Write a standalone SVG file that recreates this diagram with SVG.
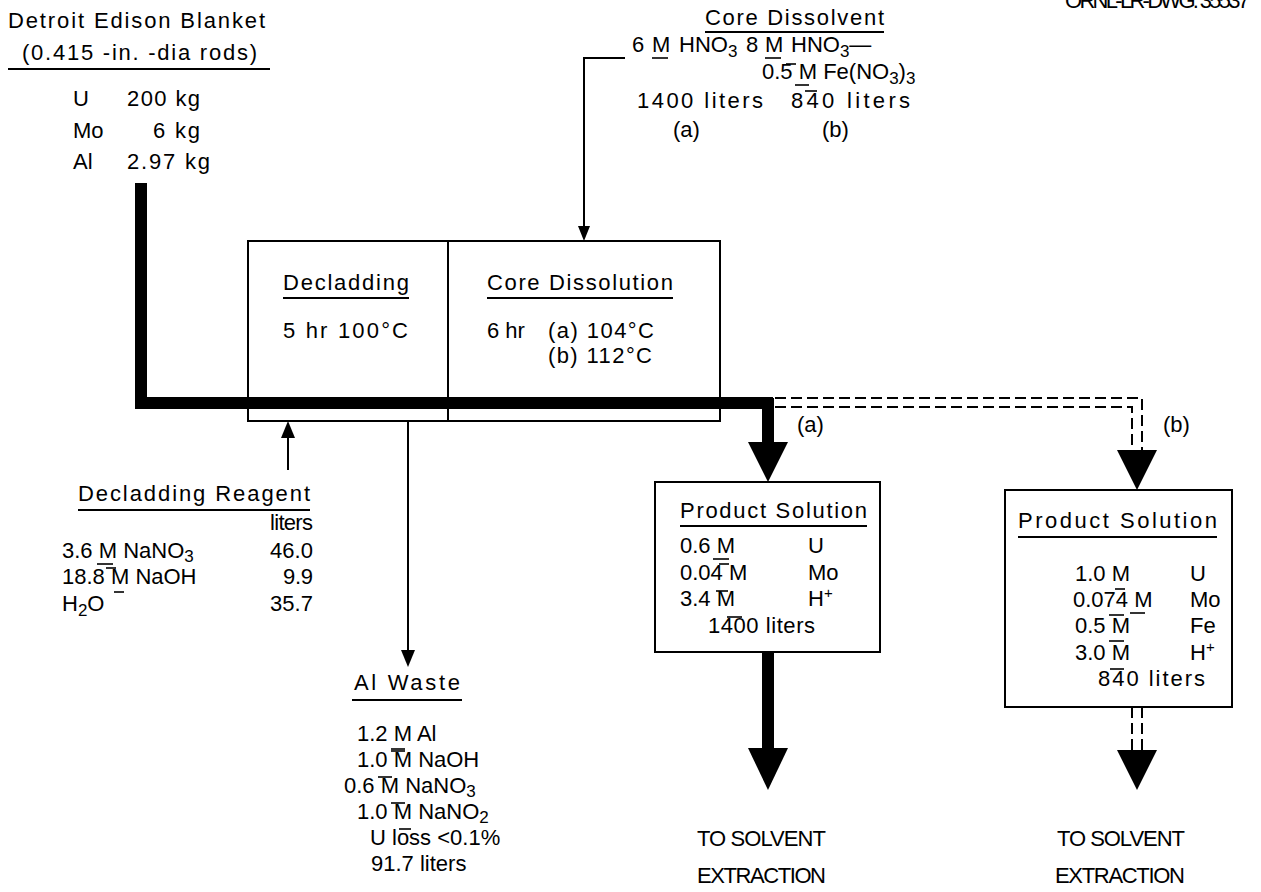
<svg xmlns="http://www.w3.org/2000/svg" width="1261" height="892" viewBox="0 0 1261 892">
<style>
text{font-family:"Liberation Sans",Arial,sans-serif;font-size:22px;fill:#000}
.sub{font-size:17px}
.sup{font-size:15px}
.ln{stroke:#000;stroke-width:2;fill:none}
.ul{stroke:#000;stroke-width:2}
.bar{stroke:#000;stroke-width:1.6}
.thick{stroke:#000;stroke-width:12;fill:none}
.dash{stroke:#000;stroke-width:2;fill:none;stroke-dasharray:11 5}
.box{fill:#fff;stroke:#000;stroke-width:2}
</style>
<rect width="1261" height="892" fill="#fff"/>
<text x="1065" y="8" font-size="16" textLength="185" lengthAdjust="spacing">ORNL-LR-DWG. 35537</text>

<g id="blanket">
<text x="8" y="28" textLength="257" lengthAdjust="spacing">Detroit Edison Blanket</text>
<text x="22" y="60" textLength="235" lengthAdjust="spacing">(0.415 -in. -dia rods)</text>
<line class="ul" x1="8" y1="69" x2="270" y2="69"/>
<text x="73" y="106">U</text><text x="127" y="106" textLength="73" lengthAdjust="spacing">200 kg</text>
<text x="73" y="138">Mo</text><text x="153" y="138" textLength="47" lengthAdjust="spacing">6 kg</text>
<text x="73" y="169">Al</text><text x="127" y="169" textLength="83" lengthAdjust="spacing">2.97 kg</text>
</g>

<g id="core-dissolvent">
<text x="705" y="25" textLength="179" lengthAdjust="spacing">Core Dissolvent</text>
<line class="ul" x1="705" y1="32" x2="884" y2="32"/>
<text x="632" y="52" font-size="21">6<tspan x="652">M</tspan><tspan x="679">HNO</tspan><tspan class="sub" dy="5">3</tspan></text>
<line class="bar" x1="652" y1="58" x2="668" y2="58"/>
<text x="746" y="52" font-size="21">8<tspan x="765">M</tspan><tspan x="791">HNO</tspan><tspan class="sub" dy="5">3</tspan><tspan dy="-5">—</tspan></text>
<line class="bar" x1="765" y1="58" x2="781" y2="58"/>
<text x="762" y="79" font-size="20">0.5 M Fe(NO<tspan class="sub" dy="5">3</tspan><tspan dy="-5">)</tspan><tspan class="sub" dy="5">3</tspan></text>
<line class="bar" x1="786" y1="64" x2="796" y2="64"/>
<line class="bar" x1="795" y1="85" x2="809" y2="85"/>
<text x="637" y="108" textLength="126" lengthAdjust="spacing">1400 liters</text>
<text x="791" y="108" textLength="119" lengthAdjust="spacing">840 liters</text>
<line class="bar" x1="805" y1="91" x2="817" y2="91"/>
<text x="673" y="137">(a)</text>
<text x="822" y="137">(b)</text>
</g>

<g id="process-box">
<rect class="box" x="248" y="241" width="472" height="180"/>
<line class="ln" x1="448" y1="241" x2="448" y2="421"/>
<text x="283" y="290" textLength="126" lengthAdjust="spacing">Decladding</text>
<line class="ul" x1="283" y1="298" x2="409" y2="298"/>
<text x="283" y="338" textLength="125" lengthAdjust="spacing">5 hr 100°C</text>
<text x="487" y="290" textLength="186" lengthAdjust="spacing">Core Dissolution</text>
<line class="ul" x1="487" y1="298" x2="673" y2="298"/>
<text x="487" y="338">6 hr</text>
<text x="548" y="338" textLength="106" lengthAdjust="spacing">(a) 104°C</text>
<text x="548" y="363" textLength="104" lengthAdjust="spacing">(b) 112°C</text>
</g>

<g id="declad-reagent">
<text x="78" y="501" textLength="232" lengthAdjust="spacing">Decladding Reagent</text>
<line class="ul" x1="78" y1="510" x2="310" y2="510"/>
<text x="270" y="530" textLength="43" lengthAdjust="spacing">liters</text>
<text x="62" y="558">3.6 <tspan>M</tspan> NaNO<tspan class="sub" dy="4">3</tspan></text>
<line class="bar" x1="97" y1="564" x2="113" y2="564"/>
<text x="270" y="558" textLength="43" lengthAdjust="spacing">46.0</text>
<text x="62" y="584">18.8 <tspan>M</tspan> NaOH</text>
<line class="bar" x1="106" y1="568" x2="116" y2="568"/>
<line class="bar" x1="114" y1="592" x2="124" y2="592"/>
<text x="283" y="584" textLength="30" lengthAdjust="spacing">9.9</text>
<text x="62" y="611">H<tspan class="sub" dy="5">2</tspan><tspan dy="-5">O</tspan></text>
<text x="270" y="611" textLength="43" lengthAdjust="spacing">35.7</text>
</g>

<g id="al-waste">
<text x="354" y="690" textLength="106" lengthAdjust="spacing">Al Waste</text>
<line class="ul" x1="352" y1="700" x2="462" y2="700"/>
<text x="357" y="741">1.2 M Al</text>
<text x="357" y="767">1.0 M  NaOH</text>
<text x="344" y="793">0.6 M  NaNO<tspan class="sub" dy="4">3</tspan></text>
<text x="357" y="819">1.0 M  NaNO<tspan class="sub" dy="4">2</tspan></text>
<text x="370" y="845">U loss &lt;0.1%</text>
<text x="371" y="871">91.7 liters</text>
<line class="bar" x1="391" y1="749" x2="405" y2="749"/>
<line class="bar" x1="391" y1="751" x2="405" y2="751"/>
<line class="bar" x1="378" y1="777" x2="392" y2="777"/>
<line class="bar" x1="391" y1="803" x2="405" y2="803"/>
<line class="bar" x1="399" y1="829" x2="411" y2="829"/>
</g>

<g id="product-a">
<rect class="box" x="655" y="482" width="225" height="170"/>
<text x="680" y="518" textLength="187" lengthAdjust="spacing">Product Solution</text>
<line class="ul" x1="680" y1="526" x2="867" y2="526"/>
<text x="680" y="553">0.6 M</text><text x="808" y="553">U</text>
<line class="bar" x1="713" y1="559" x2="729" y2="559"/>
<text x="680" y="580">0.04 M</text><text x="808" y="580">Mo</text>
<line class="bar" x1="719" y1="564" x2="729" y2="564"/>
<text x="680" y="606">3.4 M</text><text x="808" y="606">H<tspan class="sup" dy="-8">+</tspan></text>
<line class="bar" x1="716" y1="591" x2="728" y2="591"/>
<text x="708" y="633" textLength="107" lengthAdjust="spacing">1400 liters</text>
<line class="bar" x1="727" y1="617" x2="742" y2="617"/>
</g>

<g id="product-b">
<rect class="box" x="1005" y="490" width="227" height="217"/>
<text x="1018" y="528" textLength="199" lengthAdjust="spacing">Product Solution</text>
<line class="ul" x1="1018" y1="537" x2="1217" y2="537"/>
<text x="1075" y="581">1.0 M</text><text x="1190" y="581">U</text>
<text x="1073" y="607">0.074 <tspan>M</tspan></text><text x="1190" y="607">Mo</text>
<line class="bar" x1="1115" y1="589" x2="1125" y2="589"/>
<line class="bar" x1="1130" y1="613" x2="1145" y2="613"/>
<text x="1075" y="633">0.5 M</text><text x="1190" y="633">Fe</text>
<line class="bar" x1="1109" y1="615" x2="1124" y2="615"/>
<text x="1075" y="660">3.0 M</text><text x="1190" y="660">H<tspan class="sup" dy="-8">+</tspan></text>
<line class="bar" x1="1109" y1="641" x2="1124" y2="641"/>
<text x="1098" y="686" textLength="107" lengthAdjust="spacing">840 liters</text>
<line class="bar" x1="1110" y1="669" x2="1124" y2="669"/>
</g>

<g id="labels">
<text x="797" y="432" font-size="23">(a)</text>
<text x="1163" y="432" font-size="23">(b)</text>
<text x="697" y="846" textLength="129" lengthAdjust="spacing">TO SOLVENT</text>
<text x="697" y="883" textLength="129" lengthAdjust="spacing">EXTRACTION</text>
<text x="1057" y="846" textLength="128" lengthAdjust="spacing">TO SOLVENT</text>
<text x="1055" y="883" textLength="130" lengthAdjust="spacing">EXTRACTION</text>
</g>

<g id="connectors">
<path class="thick" d="M141,183 V403 H773"/>
<path class="thick" d="M768,398 V446"/>
<polygon points="748,442 788,442 768,482"/>
<path class="ln" d="M625,58 H584 V228"/>
<polygon points="578,226 590,226 584,241"/>
<line class="ln" x1="288" y1="470" x2="288" y2="436"/>
<polygon points="281,438 295,438 288,421"/>
<line class="ln" x1="408" y1="421" x2="408" y2="652"/>
<polygon points="401,650 415,650 408,667"/>
<path class="dash" d="M775,398 H1142 V452"/>
<path class="dash" d="M775,407 H1132 V452"/>
<polygon points="1117,450 1157,450 1137,490"/>
<path class="thick" d="M768,652 V752"/>
<polygon points="748,748 788,748 768,790"/>
<path class="dash" d="M1132,707 V752"/>
<path class="dash" d="M1142,707 V752"/>
<polygon points="1117,750 1157,750 1137,790"/>
</g>
</svg>
